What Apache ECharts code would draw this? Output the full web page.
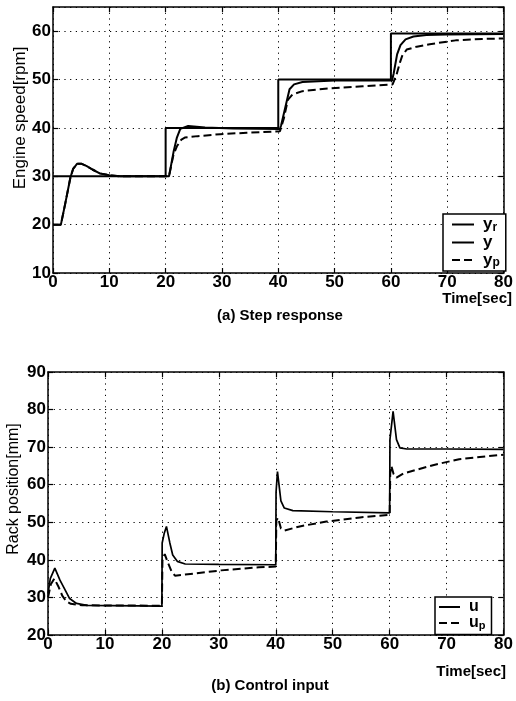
<!DOCTYPE html>
<html lang="en" style="height: 100%">

<head>
  <meta charset="utf-8" />
</head>

<body style="height: 100%; margin: 0; background: #fff">
  <div id="container" style="width: 516px; height: 701px"></div>

  <script type="text/javascript" src="https://cdn.jsdelivr.net/npm/echarts@6/dist/echarts.min.js"></script>

  <script type="text/javascript">
    // (a) step response: [time, rpm]
    var yrData = [[0, 30], [20, 30], [20, 40], [40, 40], [40, 50], [60, 50], [60, 59.5], [80, 59.5]];
    var yData = [[0, 20], [1.4, 20], [2.2, 24.5], [3.1, 29.8], [3.6, 31.6], [4.3, 32.6], [5, 32.6], [6, 32.1],
      [7, 31.4], [8.3, 30.6], [10, 30.2], [12, 30], [20.6, 30], [21.4, 35], [22, 38], [22.6, 39.8], [24, 40.4],
      [27, 40.1], [32, 39.9], [40.3, 39.8], [40.5, 40.5], [41.4, 45], [42, 48], [42.8, 49], [44.3, 49.5],
      [50, 49.8], [60.2, 49.8], [60.5, 51.3], [61.1, 55.2], [61.7, 57.1], [62.6, 58.3], [64, 58.9],
      [66.3, 59.2], [69.8, 59.3], [80, 59.4]];
    var ypData = [[0, 20], [1.4, 20], [2.2, 24.5], [3.1, 29.8], [3.6, 31.6], [4.3, 32.6], [5, 32.6], [6, 32.1],
      [7, 31.4], [8.3, 30.6], [10, 30.2], [12, 30], [20.6, 30], [21.4, 34.5], [22, 36.2], [22.8, 37.6],
      [23.4, 38], [25.7, 38.3], [29.7, 38.7], [34.4, 39], [40.3, 39.3], [41, 42], [41.7, 45.8], [42.5, 46.9],
      [44.3, 47.6], [48.3, 48.1], [55, 48.6], [60.3, 49], [61, 51], [61.6, 53.5], [62, 54.9], [62.8, 56.2],
      [64.6, 56.8], [66.9, 57.3], [71.5, 58.1], [76.2, 58.4], [80, 58.5]];

    // (b) control input: [time, mm]
    var uData = [[0, 31], [0.4, 35], [1.2, 37.8], [2.1, 34.6], [3, 32], [3.8, 29.7], [5, 28.4], [6.8, 27.9],
      [20, 27.7], [20.05, 44.5], [20.4, 47], [20.8, 48.9], [21.4, 44.5], [21.9, 41.3], [22.7, 39.6],
      [24.1, 38.9], [30, 38.8], [40, 38.7], [40.05, 58], [40.3, 63.5], [40.9, 55.7], [41.5, 53.8], [43, 53.1],
      [50, 52.8], [60, 52.5], [60.05, 72], [60.6, 79.5], [61.2, 72], [61.8, 69.8], [63, 69.5], [70, 69.5],
      [80, 69.4]];
    var upData = [[0, 30], [0.5, 33.5], [1.1, 35], [1.8, 33], [2.5, 30.5], [3.2, 29], [4, 28.3], [6, 27.9],
      [20, 27.8], [20.1, 40], [20.5, 41.5], [21, 39.5], [21.7, 36.9], [22.3, 35.8], [24.1, 36.1],
      [27.6, 36.7], [30.4, 37.2], [37, 38], [40, 38.2], [40.1, 50.5], [40.4, 51.2], [40.9, 48.4],
      [41.5, 47.8], [44.2, 48.9], [48.9, 50.2], [54.8, 51.3], [60, 52], [60.1, 63], [60.3, 65], [60.7, 62.8],
      [61.2, 61.9], [62.4, 63], [67.6, 65.2], [72.2, 66.8], [80, 68]];

    var timeRange = [0, 80];
    var speedRange = [10, 65];
    var rackRange = [20, 90];

    var FONT = "'Liberation Sans', Arial, sans-serif";
    var dotted = { color: "#000", type: [1.2, 4.5], width: 1 };

    function axis(pos, grid, range, main) {
      return {
        type: "value",
        gridIndex: grid,
        position: pos,
        min: range[0],
        max: range[1],
        interval: 10,
        axisLine: { show: true, onZero: false, lineStyle: { color: "#000", width: 1.5 } },
        axisTick: { show: true, inside: true, length: 5, lineStyle: { color: "#000", width: 1.2 } },
        axisLabel: {
          show: main,
          showMaxLabel: range[1] % 10 === 0,
          color: "#000",
          fontFamily: FONT,
          fontWeight: "bold",
          fontSize: 17,
          margin: pos === "left" ? 2 : 1,
        },
        splitLine: { show: main, lineStyle: dotted },
      };
    }

    function legendFmt(name) {
      var p = name.split("_");
      return "{m|" + p[0] + "}" + (p[1] ? "{s|" + p[1] + "}" : "");
    }

    function legendStyle(size) {
      return {
        color: "#000",
        padding: [0, 0, 0, 4],
        rich: {
          m: { fontFamily: FONT, fontWeight: "bold", fontSize: size, lineHeight: size + 1, color: "#000" },
          s: { fontFamily: FONT, fontWeight: "bold", fontSize: size - 5, lineHeight: 8, verticalAlign: "bottom", color: "#000" },
        },
      };
    }

    function line(name, data, x, y, w, dashed) {
      return {
        name: name,
        type: "line",
        xAxisIndex: x,
        yAxisIndex: y,
        data: data,
        symbol: "none",
        lineStyle: { color: "#000", width: w, type: dashed ? [8, 4] : "solid" },
        itemStyle: { color: "#000" },
      };
    }

    var myChart = echarts.init(document.getElementById("container"), null, { renderer: "canvas" });

    var legendBase = {
      orient: "vertical",
      itemHeight: 14,
      borderColor: "#000",
      borderWidth: 1.5,
      backgroundColor: "#fff",
      selectedMode: false,
      formatter: legendFmt,
      itemStyle: { color: "transparent", borderColor: "transparent", borderWidth: 0 },
    };

    var option = {
      animation: false,
      backgroundColor: "#fff",
      grid: [
        { left: 53, top: 7, width: 459, height: 266 },
        { left: 48, top: 372, width: 459, height: 263 },
      ],
      xAxis: [
        axis("bottom", 0, timeRange, true),
        axis("top", 0, timeRange, false),
        axis("bottom", 1, timeRange, true),
        axis("top", 1, timeRange, false),
      ],
      yAxis: [
        axis("left", 0, speedRange, true),
        axis("right", 0, speedRange, false),
        axis("left", 1, rackRange, true),
        axis("right", 1, rackRange, false),
      ],
      legend: [
        Object.assign({}, legendBase, {
          data: ["y_r", "y", "y_p"],
          left: 443,
          top: 214,
          padding: [2, 6, 2, 8],
          itemWidth: 22,
          itemGap: 0.5,
          textStyle: legendStyle(17),
        }),
        Object.assign({}, legendBase, {
          data: ["u", "u_p"],
          left: 435,
          top: 597,
          padding: [2, 6, 3, 3],
          itemWidth: 21,
          itemGap: 0,
          textStyle: legendStyle(16),
        }),
      ],
      graphic: [
        { type: "text", x: 20, y: 118, rotation: Math.PI / 2,
          style: { text: "Engine speed[rpm]", font: "17px " + FONT, fill: "#000", align: "center", verticalAlign: "middle" } },
        { type: "text", x: 14, y: 489, rotation: Math.PI / 2,
          style: { text: "Rack position[mm]", font: "16px " + FONT, fill: "#000", align: "center", verticalAlign: "middle" } },
        { type: "text", x: 512, y: 299,
          style: { text: "Time[sec]", font: "bold 15px " + FONT, fill: "#000", align: "right", verticalAlign: "middle" } },
        { type: "text", x: 506, y: 672,
          style: { text: "Time[sec]", font: "bold 15px " + FONT, fill: "#000", align: "right", verticalAlign: "middle" } },
        { type: "text", x: 280, y: 316,
          style: { text: "(a) Step response", font: "bold 15px " + FONT, fill: "#000", align: "center", verticalAlign: "middle" } },
        { type: "text", x: 270, y: 686,
          style: { text: "(b) Control input", font: "bold 15px " + FONT, fill: "#000", align: "center", verticalAlign: "middle" } },
      ],
      series: [
        line("y_r", yrData, 0, 0, 2, false),
        line("y", yData, 0, 0, 2, false),
        line("y_p", ypData, 0, 0, 2, true),
        line("u", uData, 2, 2, 1.7, false),
        line("u_p", upData, 2, 2, 2, true),
      ],
    };

    myChart.setOption(option);
    window.addEventListener("resize", myChart.resize);
  </script>
</body>

</html>
